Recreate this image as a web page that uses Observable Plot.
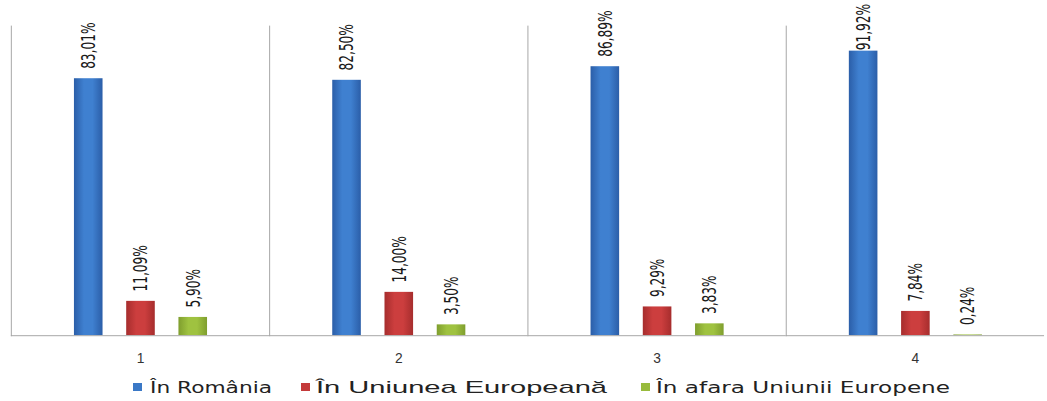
<!DOCTYPE html>
<html>
<head>
<meta charset="utf-8">
<script src="https://cdn.jsdelivr.net/npm/d3@7"></script>
<script src="https://cdn.jsdelivr.net/npm/@observablehq/plot@0.6"></script>
<style>
  html, body { margin: 0; padding: 0; background: #fff; overflow: hidden; width: 1047px; height: 401px; }
  #chart svg { display: block; }
  #legend { display: block; }
</style>
</head>
<body>
<div id="chart"></div>
<svg id="legend" width="1047" height="26"></svg>
<script>
const categories = ["1", "2", "3", "4"];
const series = ["În România", "În Uniunea Europeană", "În afara Uniunii Europene"];
const romania = [83.01, 82.50, 86.89, 91.92];
const ue = [11.09, 14.00, 9.29, 7.84];
const afaraUe = [5.90, 3.50, 3.83, 0.24];
const valuesBySeries = [romania, ue, afaraUe];

const data = [];
categories.forEach((c, i) => {
  series.forEach((s, j) => data.push({cat: c, series: s, value: valuesBySeries[j][i]}));
});

const fmt = v => v.toFixed(2).replace(".", ",") + "%";

const plot = Plot.plot({
  width: 1062,
  height: 375,
  marginLeft: 10,
  marginRight: 2,
  marginTop: 26,
  marginBottom: 35,
  style: {background: "#fff", overflow: "visible"},
  fx: {domain: categories, padding: 0, axis: "bottom", label: null, tickSize: 0, tickPadding: 18},
  x: {domain: series, paddingInner: 0.454, paddingOuter: 1.158, axis: null},
  y: {domain: [0, 100], axis: null},
  color: {domain: series, range: ["url(#gBlue)", "url(#gRed)", "url(#gGreen)"]},
  marks: [
    Plot.frame({anchor: "left", stroke: "#a6a6a6", strokeOpacity: 1}),
    Plot.barY(data, {fx: "cat", x: "series", y: "value", fill: "series"}),
    Plot.ruleY([0], {stroke: "#a6a6a6"}),
    Plot.text(data, {
      fx: "cat", x: "series", y: "value", text: d => fmt(d.value),
      rotate: -90, textAnchor: "start", dy: -10, fontSize: 20,
      fontFamily: "'Liberation Sans Narrow', 'DejaVu Sans Condensed', sans-serif",
      fill: "#1a1a1a"
    })
  ]
});

const svg = d3.select(plot);
svg.selectAll("[aria-label='fx-axis tick label'] text")
  .style("font-family", "'Liberation Sans', Arial, sans-serif")
  .style("font-size", "14px")
  .attr("fill", "#333");

const defs = svg.insert("defs", ":first-child");
function grad(id, edge, mid) {
  const g = defs.append("linearGradient").attr("id", id).attr("x1", "0").attr("x2", "1").attr("y1", "0").attr("y2", "0");
  g.append("stop").attr("offset", "0%").attr("stop-color", edge);
  g.append("stop").attr("offset", "35%").attr("stop-color", mid);
  g.append("stop").attr("offset", "65%").attr("stop-color", mid);
  g.append("stop").attr("offset", "100%").attr("stop-color", edge);
}
grad("gBlue", "#2b5ea8", "#3f80d0");
grad("gRed", "#a62d2d", "#cc3e3e");
grad("gGreen", "#7f9e2e", "#9fc240");

document.getElementById("chart").appendChild(plot);

// condense the rotated value labels like the reference (narrow glyphs), keep them inside the view
svg.selectAll("g[aria-label='text'] text").each(function() {
  const t = d3.select(this);
  const n = this.textContent.length;
  const target = n >= 6 ? 47 : 39;
  const natural = this.getComputedTextLength();
  const k = natural > 0 ? target / natural : 1;
  t.attr("transform", (t.attr("transform") || "") + ` scale(${k},1)`);
  const r = this.getBoundingClientRect();
  if (r.top < 4) {
    const shift = 4 - r.top;
    t.attr("transform", `translate(0,${shift}) ` + t.attr("transform"));
  }
});

// Legend
const legendColors = ["#3a78c6", "#c43a3a", "#98bb3c"];
const legendItems = [
  {sq: 133, tx: 150, end: 272, size: 15, font: "'DejaVu Sans', sans-serif"},
  {sq: 301, tx: 316, end: 607, size: 17, font: "'Liberation Sans', Arial, sans-serif"},
  {sq: 641, tx: 656, end: 950, size: 15, font: "'DejaVu Sans', sans-serif"}
];
const leg = d3.select("#legend");
series.forEach((s, i) => {
  const it = legendItems[i];
  leg.append("rect").attr("x", it.sq).attr("y", 13).attr("width", 9).attr("height", 8)
    .attr("fill", legendColors[i]);
  leg.append("text").attr("x", it.tx).attr("y", 23)
    .attr("font-family", it.font).attr("font-size", it.size).attr("fill", "#222")
    .attr("textLength", it.end - it.tx).attr("lengthAdjust", "spacingAndGlyphs")
    .text(s);
});
</script>
</body>
</html>
